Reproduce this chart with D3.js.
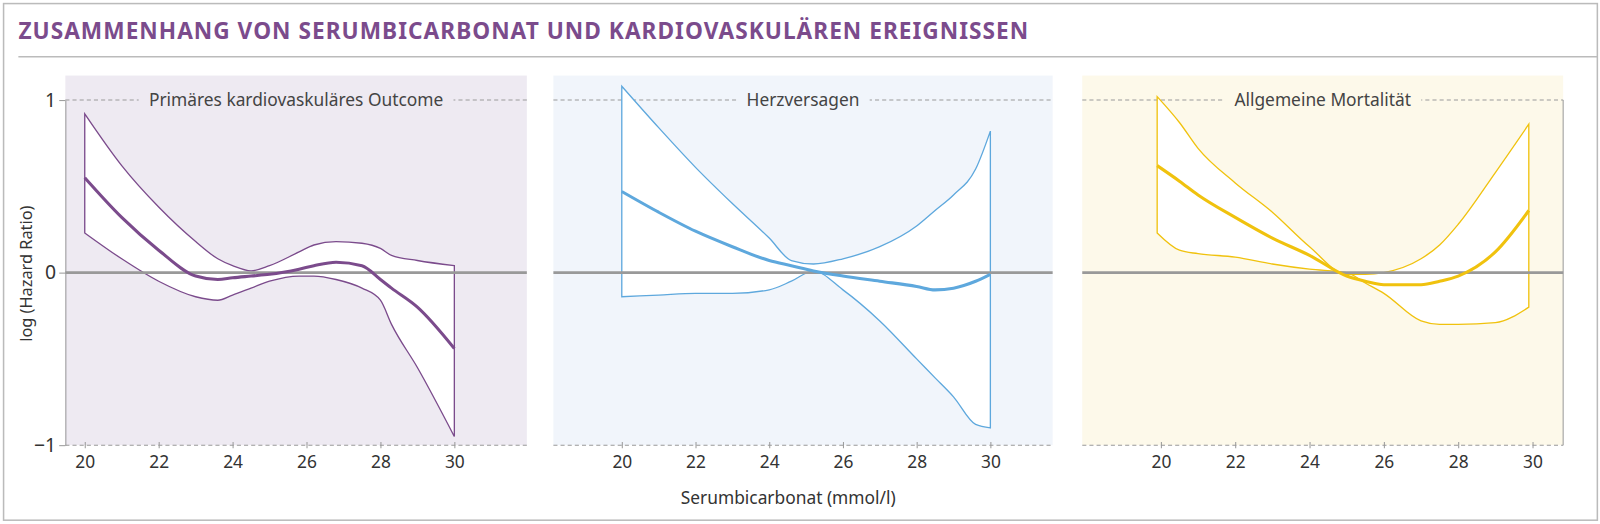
<!DOCTYPE html>
<html>
<head>
<meta charset="utf-8">
<script src="https://cdn.jsdelivr.net/npm/d3@7"></script>
<style>
    body { margin: 0; background: #fff; font-family: "Noto Sans", sans-serif; }
</style>
</head>
<body>
<svg id="chart" width="1600" height="524"></svg>
<script>
// Data: log hazard ratio over serum bicarbonate
const xTicks = [20, 22, 24, 26, 28, 30];
const yTicks = [1, 0, -1];
const panelTitles = ["Primäres kardiovaskuläres Outcome", "Herzversagen", "Allgemeine Mortalität"];

const p1X = [20, 21, 22, 23, 23.6, 24, 24.5, 25, 25.8, 26.2, 26.8, 27.5, 28, 28.3, 29, 30];
const p1Upper = [0.92, 0.62, 0.38, 0.18, 0.08, 0.04, 0.01, 0.04, 0.12, 0.16, 0.18, 0.17, 0.14, 0.1, 0.07, 0.04];
const p1Lower = [0.23, 0.08, -0.05, -0.14, -0.16, -0.13, -0.09, -0.05, -0.02, -0.02, -0.04, -0.09, -0.16, -0.3, -0.55, -0.95];
const p1Mean = [0.55, 0.32, 0.13, -0.02, -0.04, -0.03, -0.02, -0.01, 0.02, 0.04, 0.06, 0.04, -0.04, -0.09, -0.2, -0.44];

const p2X = [20, 21, 22, 23, 24, 24.6, 25.2, 26, 27, 28, 28.5, 29, 29.6, 30];
const p2Upper = [1.08, 0.84, 0.61, 0.4, 0.2, 0.07, 0.05, 0.08, 0.15, 0.27, 0.36, 0.45, 0.6, 0.82];
const p2Lower = [-0.14, -0.13, -0.12, -0.12, -0.1, -0.05, 0.01, -0.1, -0.28, -0.5, -0.61, -0.72, -0.88, -0.9];
const p2Mean = [0.47, 0.35, 0.24, 0.15, 0.07, 0.04, 0.01, -0.02, -0.05, -0.08, -0.1, -0.09, -0.05, -0.01];

const p3X = [19.9, 20.5, 21, 22, 23, 24, 25, 25.5, 26, 27, 27.5, 28, 29, 29.9];
const p3Upper = [1.02, 0.87, 0.72, 0.52, 0.35, 0.15, -0.01, -0.01, 0.0, 0.08, 0.16, 0.28, 0.58, 0.86];
const p3Lower = [0.23, 0.13, 0.11, 0.09, 0.05, 0.02, 0.0, -0.06, -0.12, -0.28, -0.3, -0.3, -0.29, -0.2];
const p3Mean = [0.62, 0.53, 0.45, 0.32, 0.2, 0.1, -0.02, -0.05, -0.07, -0.07, -0.05, -0.02, 0.12, 0.36];

const panels = [
    { title: panelTitles[0], x: p1X, upper: p1Upper, lower: p1Lower, mean: p1Mean,
      left: 64, right: 516, px20: 83, px30: 445, bg: "#eeeaf2", color: "#7b4b8c" },
    { title: panelTitles[1], x: p2X, upper: p2Upper, lower: p2Lower, mean: p2Mean,
      left: 542, right: 1031, px20: 609, px30: 970, bg: "#f1f5fb", color: "#5ea8dd" },
    { title: panelTitles[2], x: p3X, upper: p3Upper, lower: p3Lower, mean: p3Mean,
      left: 1060, right: 1531, px20: 1137, px30: 1501, bg: "#fdf9ea", color: "#f0c20e" }
];

const svg = d3.select("#chart").append("g").attr("transform", "scale(1.021)");
const purple = "#7b4b8c";
const gridGray = "#999";

// Frame and title
svg.append("rect").attr("x", 3.5).attr("y", 3.5).attr("width", 1561).attr("height", 506)
    .attr("fill", "none").attr("stroke", "#bbb").attr("stroke-width", 1.5);
svg.append("text").attr("x", 18).attr("y", 38)
    .attr("fill", purple).style("font-size", "22.2px").style("font-weight", "700")
    .style("letter-spacing", "1px")
    .text("ZUSAMMENHANG VON SERUMBICARBONAT UND KARDIOVASKULÄREN EREIGNISSEN");
svg.append("line").attr("x1", 18).attr("x2", 1565).attr("y1", 55.5).attr("y2", 55.5)
    .attr("stroke", "#bbb").attr("stroke-width", 1.5);

const y = d3.scaleLinear().domain([-1, 1]).range([436, 98]);

panels.forEach(p => {
    const x = d3.scaleLinear().domain([20, 30]).range([p.px20, p.px30]);
    const g = svg.append("g");

    g.append("rect").attr("x", p.left).attr("y", 74)
        .attr("width", p.right - p.left).attr("height", 436 - 74).attr("fill", p.bg);

    // dashed lines at +1 / -1
    [1, -1].forEach(v => {
        g.append("line").attr("x1", p.left).attr("x2", p.right)
            .attr("y1", y(v)).attr("y2", y(v))
            .attr("stroke", gridGray).attr("stroke-width", 1).attr("stroke-dasharray", "4,3");
    });

    // confidence band
    const pts = p.x.map((v, k) => ({ x: v, hi: p.upper[k], lo: p.lower[k], m: p.mean[k] }));
    g.append("path").datum(pts)
        .attr("d", d3.area().x(d => x(d.x)).y0(d => y(d.lo)).y1(d => y(d.hi)).curve(d3.curveMonotoneX))
        .attr("fill", "#fff").attr("stroke", p.color).attr("stroke-width", 1.3);

    // zero line
    g.append("line").attr("x1", p.left).attr("x2", p.right)
        .attr("y1", y(0)).attr("y2", y(0)).attr("stroke", gridGray).attr("stroke-width", 2.5);

    // mean line
    g.append("path").datum(pts)
        .attr("d", d3.line().x(d => x(d.x)).y(d => y(d.m)).curve(d3.curveMonotoneX))
        .attr("fill", "none").attr("stroke", p.color).attr("stroke-width", 3);

    // panel title over dashed line
    const t = g.append("text").attr("x", (p.left + p.right) / 2).attr("y", y(1) + 6)
        .attr("text-anchor", "middle").attr("fill", "#444").style("font-size", "17px")
        .text(p.title);
    const bb = t.node().getBBox();
    g.insert("rect", "text").attr("x", bb.x - 10).attr("y", y(1) - 3)
        .attr("width", bb.width + 20).attr("height", 6).attr("fill", p.bg);

    // x axis ticks
    const ax = g.append("g").attr("transform", "translate(0,436)")
        .call(d3.axisBottom(x).tickValues(xTicks).tickSize(6).tickPadding(4).tickSizeOuter(0));
    ax.select(".domain").remove();
    ax.selectAll(".tick line").attr("stroke", gridGray).attr("transform", "translate(0,-3)");
    ax.selectAll("text").attr("fill", "#333").style("font-size", "17px")
        .style("font-family", "Noto Sans, sans-serif");
});

// y axis on first panel
const yAx = svg.append("g").attr("transform", "translate(64,0)")
    .call(d3.axisLeft(y).tickValues(yTicks).tickFormat(d3.format("d")).tickSize(6).tickSizeOuter(0));
yAx.select(".domain").attr("stroke", gridGray);
yAx.selectAll(".tick line").attr("stroke", gridGray);
yAx.selectAll("text").attr("fill", "#333").style("font-size", "19px")
    .style("font-family", "Noto Sans, sans-serif");

// right edge line on third panel
svg.append("line").attr("x1", 1531).attr("x2", 1531).attr("y1", y(1)).attr("y2", y(-1))
    .attr("stroke", gridGray).attr("stroke-width", 1);

svg.append("text").attr("transform", "translate(31,268) rotate(-90)")
    .attr("text-anchor", "middle").attr("fill", "#333").style("font-size", "16px")
    .text("log (Hazard Ratio)");
svg.append("text").attr("x", 772).attr("y", 494)
    .attr("text-anchor", "middle").attr("fill", "#333").style("font-size", "17px")
    .text("Serumbicarbonat (mmol/l)");
</script>
</body>
</html>
